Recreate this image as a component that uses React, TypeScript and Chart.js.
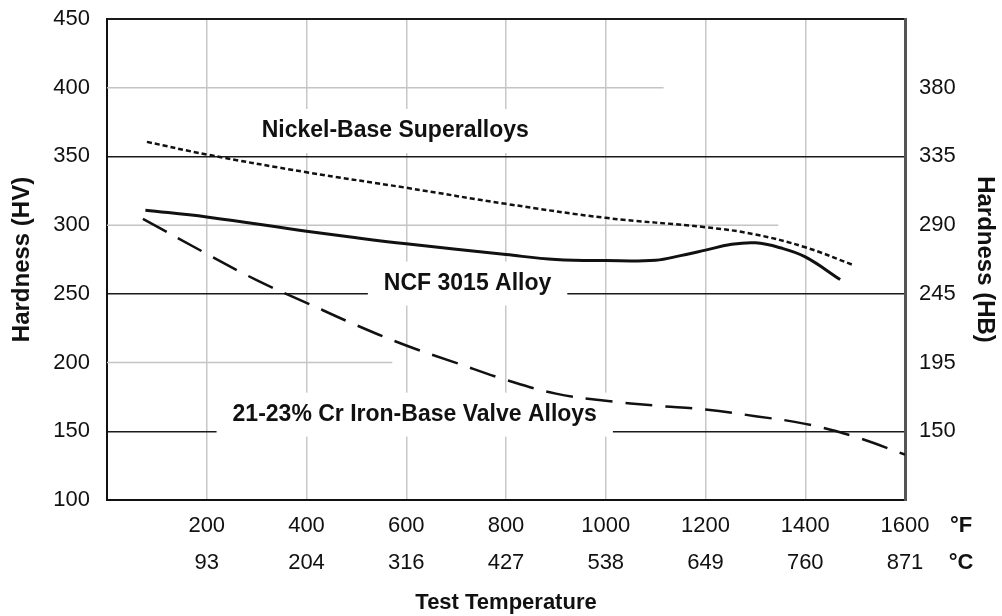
import React, { useEffect, useRef } from 'react';
import { Chart, registerables } from 'chart.js';

Chart.register(...registerables);

const FONT = "'Liberation Sans', Arial, Helvetica, sans-serif";

// Nickel-base superalloys (dotted)
const nickelTempF = [80, 200, 400, 600, 800, 1000, 1200, 1300, 1400, 1494];
const nickelHV = [360.6, 351.4, 338.5, 327.2, 315.5, 305.3, 298.5, 293.2, 283.9, 271.3];

// NCF 3015 alloy (solid)
const ncfTempF = [77, 200, 400, 500, 600, 800, 900, 1000, 1100, 1150, 1200, 1250, 1300, 1350, 1400, 1470];
const ncfHV = [310.9, 306, 295.6, 290.8, 286.4, 278.6, 275, 274.2, 274.5, 277.8, 281.8, 285.9, 287.1, 283.5, 276.9, 260.4];

// 21-23% Cr iron-base valve alloys (dashed)
const crTempF = [72, 200, 300, 400, 500, 600, 700, 800, 900, 1000, 1100, 1200, 1300, 1400, 1500, 1600];
const crHV = [304.6, 279.1, 260, 243.5, 227.2, 212.4, 199.8, 187.4, 177.4, 172.2, 168.7, 165.8, 161, 155.4, 146, 133];

// Axis ticks
const fahrenheitTicks = [200, 400, 600, 800, 1000, 1200, 1400, 1600];
const celsiusTicks = ['93', '204', '316', '427', '538', '649', '760', '871'];
const hbTickPositions = [400, 350, 300, 250, 200, 150];
const hbTickLabels = ['380', '335', '290', '245', '195', '150'];
const majorHV = [450, 350, 250, 150];

// Curve labels (text + anchor in data units)
const curveLabelText = ['Nickel-Base Superalloys', 'NCF 3015 Alloy', '21-23% Cr Iron-Base Valve Alloys'];
const curveLabelAnchor = [
  { x: 578, y: 368.5 },
  { x: 723, y: 257.5 },
  { x: 617, y: 162.1 },
];

// Faint partial horizontal grid lines (HV value, end temperature)
const minorGridSegments = [
  { v: 400, toF: 1116 },
  { v: 300, toF: 1346 },
  { v: 200, toF: 572 },
];

const toPoints = (xs: number[], ys: number[]) => xs.map((x, i) => ({ x, y: ys[i] }));

const overlayPlugin = {
  id: 'overlay',
  beforeDatasetsDraw(chart: any) {
    const { ctx, chartArea, scales } = chart;
    const x = scales.x;
    const y = scales.y;
    ctx.save();
    ctx.strokeStyle = '#c4c4c4';
    ctx.lineWidth = 1.5;
    for (const s of minorGridSegments) {
      const py = y.getPixelForValue(s.v);
      ctx.beginPath();
      ctx.moveTo(chartArea.left, py);
      ctx.lineTo(x.getPixelForValue(s.toF), py);
      ctx.stroke();
    }
    ctx.font = `bold 23px ${FONT}`;
    ctx.textAlign = 'center';
    ctx.textBaseline = 'middle';
    curveLabelText.forEach((t, i) => {
      const a = curveLabelAnchor[i];
      const px = x.getPixelForValue(a.x);
      const py = y.getPixelForValue(a.y);
      const w = ctx.measureText(t).width;
      ctx.fillStyle = '#ffffff';
      ctx.fillRect(px - w / 2 - 16, py - 22, w + 32, 44);
      ctx.fillStyle = '#111111';
      ctx.fillText(t, px, py);
    });
    ctx.restore();
  },
  afterDraw(chart: any) {
    const { ctx, scales } = chart;
    const x = scales.x;
    ctx.save();
    ctx.font = `bold 22px ${FONT}`;
    ctx.fillStyle = '#111111';
    ctx.textAlign = 'center';
    ctx.textBaseline = 'middle';
    const ux = x.getPixelForValue(1600) + 56;
    ctx.fillText('°F', ux, x.top + 26);
    ctx.fillText('°C', ux, x.top + 63);
    ctx.restore();
  },
};

export default function App() {
  const canvasRef = useRef<HTMLCanvasElement | null>(null);

  useEffect(() => {
    document.body.style.margin = '0';
    const canvas = canvasRef.current;
    if (!canvas) return;
    Chart.defaults.font.family = FONT;

    const chart = new Chart(canvas, {
      type: 'line',
      data: {
        datasets: [
          {
            label: 'Nickel-Base Superalloys',
            data: toPoints(nickelTempF, nickelHV),
            borderColor: '#111111',
            borderWidth: 2.5,
            borderDash: [5, 3],
            pointRadius: 0,
            tension: 0.4,
            fill: false,
          },
          {
            label: 'NCF 3015 Alloy',
            data: toPoints(ncfTempF, ncfHV),
            borderColor: '#111111',
            borderWidth: 3,
            pointRadius: 0,
            tension: 0.4,
            fill: false,
          },
          {
            label: '21-23% Cr Iron-Base Valve Alloys',
            data: toPoints(crTempF, crHV),
            borderColor: '#111111',
            borderWidth: 2.5,
            borderDash: [27, 13],
            pointRadius: 0,
            tension: 0.4,
            fill: false,
          },
        ],
      },
      options: {
        animation: false,
        responsive: false,
        devicePixelRatio: 1,
        layout: { padding: { top: 19, left: 0, right: 0, bottom: 0 } },
        plugins: {
          legend: { display: false },
          tooltip: { enabled: false },
        },
        scales: {
          x: {
            type: 'linear',
            min: 0,
            max: 1600,
            afterBuildTicks: (s: any) => {
              s.ticks = fahrenheitTicks.map((v) => ({ value: v }));
            },
            afterFit: (s: any) => {
              s.height = 116;
            },
            ticks: {
              color: '#111111',
              font: { size: 22, family: FONT, lineHeight: 37 / 22 },
              padding: 7.5,
              maxRotation: 0,
              autoSkip: false,
              callback: (_v: any, i: number) => [String(fahrenheitTicks[i]), celsiusTicks[i]],
            },
            grid: {
              drawTicks: false,
              color: (c: any) => (c.tick && c.tick.value === 1600 ? 'rgba(0,0,0,0)' : '#c8c8c8'),
              lineWidth: 1.5,
            },
            border: { color: '#111111', width: 2 },
            title: {
              display: true,
              text: 'Test Temperature',
              color: '#111111',
              font: { size: 22, weight: 'bold', family: FONT },
              padding: { top: 0, bottom: 0 },
            },
          },
          y: {
            type: 'linear',
            position: 'left',
            min: 100,
            max: 450,
            afterFit: (s: any) => {
              s.width = 107;
              s.paddingTop = 0;
              s.paddingBottom = 0;
            },
            ticks: {
              stepSize: 50,
              color: '#111111',
              font: { size: 22, family: FONT },
              padding: 17,
            },
            grid: {
              drawTicks: false,
              color: (c: any) => (c.tick && majorHV.includes(c.tick.value) ? '#1a1a1a' : 'rgba(0,0,0,0)'),
              lineWidth: (c: any) => (c.tick && c.tick.value === 450 ? 2 : 1.5),
            },
            border: { color: '#111111', width: 2 },
            title: {
              display: true,
              text: 'Hardness (HV)',
              color: '#111111',
              font: { size: 24, weight: 'bold', family: FONT },
              padding: { top: 8, bottom: 0 },
            },
          },
          y2: {
            type: 'linear',
            position: 'right',
            min: 100,
            max: 450,
            afterBuildTicks: (s: any) => {
              s.ticks = hbTickPositions.map((v) => ({ value: v }));
            },
            afterFit: (s: any) => {
              s.width = 97;
              s.paddingTop = 0;
              s.paddingBottom = 0;
            },
            ticks: {
              color: '#111111',
              font: { size: 22, family: FONT },
              padding: 14,
              autoSkip: false,
              callback: (_v: any, i: number) => hbTickLabels[i],
            },
            grid: { drawOnChartArea: false, drawTicks: false },
            border: { color: '#555555', width: 3 },
            title: {
              display: true,
              text: 'Hardness (HB)',
              color: '#111111',
              font: { size: 24, weight: 'bold', family: FONT },
              padding: { top: 3, bottom: 0 },
            },
          },
        },
      },
      plugins: [overlayPlugin],
    } as any);

    return () => {
      chart.destroy();
    };
  }, []);

  return (
    <div style={{ width: 1002, height: 616, background: '#ffffff' }}>
      <canvas ref={canvasRef} width={1002} height={616} style={{ display: 'block' }} />
    </div>
  );
}
